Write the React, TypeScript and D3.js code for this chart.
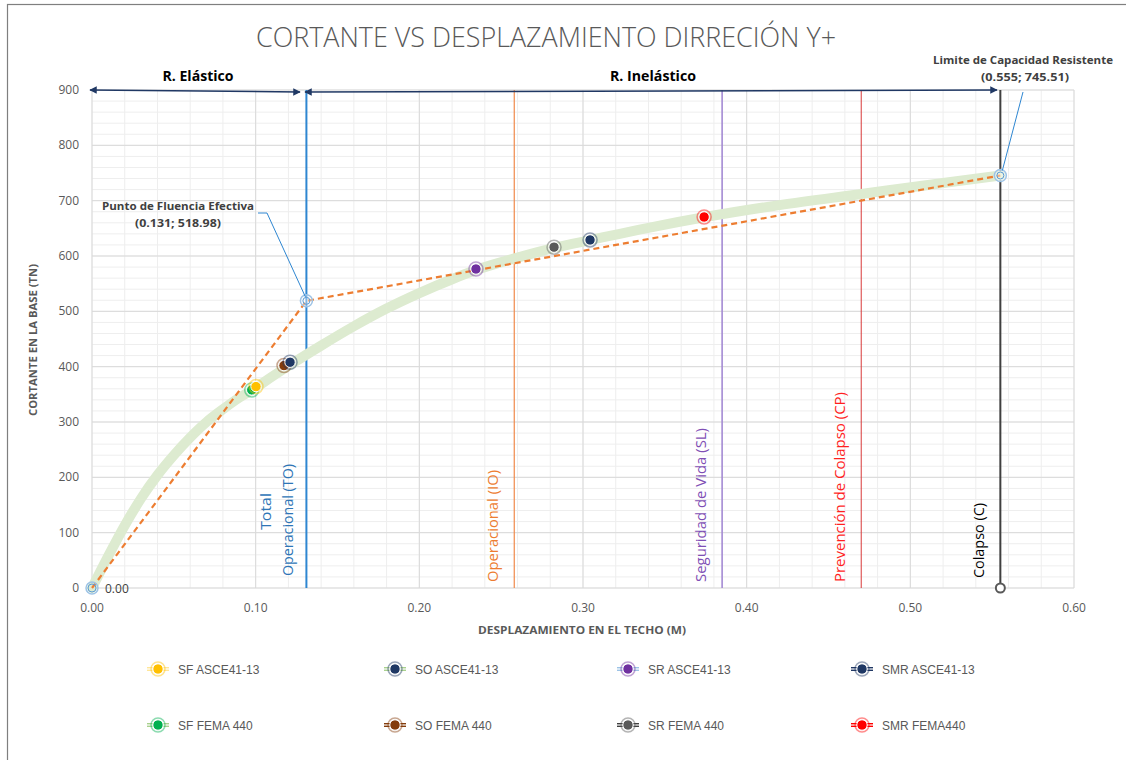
import React from "react";
import * as d3 from "d3";

// ---- data ----
const curveX = [0, 0.01, 0.02, 0.03, 0.04, 0.05, 0.06, 0.07, 0.08, 0.09, 0.098, 0.11, 0.122, 0.14, 0.16, 0.18, 0.2, 0.22, 0.235, 0.26, 0.283, 0.305, 0.34, 0.374, 0.42, 0.47, 0.52, 0.555];
const curveY = [0, 58, 113, 162, 204, 240, 272, 300, 323, 344, 358, 382, 405, 438, 473, 505, 533, 558, 575, 597, 615, 629, 651, 670, 692, 712, 732, 745.5];

const bilinearX = [0, 0.131, 0.555];
const bilinearY = [0, 518.98, 745.51];

const seriesNames = ["SF ASCE41-13", "SO ASCE41-13", "SR ASCE41-13", "SMR ASCE41-13", "SF FEMA 440", "SO FEMA 440", "SR FEMA 440", "SMR FEMA440"];
const seriesX = [0.1002, 0.121, 0.2346, 0.3043, 0.0976, 0.1173, 0.2823, 0.374];
const seriesY = [364, 408, 576.5, 629, 358, 402, 616, 670.5];
const markerColors = ["#FFC000", "#1F3864", "#7030A0", "#1F3864", "#00B050", "#843C0C", "#595959", "#FF0000"];
const legendLineColors = ["#FFE699", "#A9D18E", "#9DC3E6", "#203864", "#A9D18E", "#843C0C", "#404040", "#FF0000"];
const drawOrder = [4, 0, 5, 1, 2, 6, 3, 7];

const levelNames = ["Operacional (IO)", "Seguridad de Vida (SL)", "Prevención de Colapso (CP)", "Colapso (C)"];
const levelX = [0.258, 0.385, 0.47, 0.555];
const levelColors = ["#F08A4B", "#A48AD4", "#D83A3A", "#404040"];
const levelTextColors = ["#ED7D31", "#7F4FB5", "#FF1F1F", "#000000"];
const levelWidths = [1.2, 1.6, 1, 2];
const levelTextLen = [112, 154, 190, 75];

const xTicks = [0, 0.1, 0.2, 0.3, 0.4, 0.5, 0.6];
const yTicks = [0, 100, 200, 300, 400, 500, 600, 700, 800, 900];

const FONT = "'Open Sans', 'Liberation Sans', sans-serif";
const LEGFONT = "'Liberation Sans', Arial, sans-serif";

export default function App() {
  const x = d3.scaleLinear().domain([0, 0.6]).range([92, 1074]);
  const y = d3.scaleLinear().domain([0, 900]).range([588, 90]);
  const minorX = d3.range(0, 0.6001, 0.02);
  const minorY = d3.range(0, 900.1, 20);
  const line = d3.line<number>().x((_, i) => x(curveX[i])).y((_, i) => y(curveY[i])).curve(d3.curveMonotoneX);
  const biline = d3.line<number>().x((_, i) => x(bilinearX[i])).y((_, i) => y(bilinearY[i]));

  const marker = (cx: number, cy: number, c: string, key: string) => (
    <g key={key}>
      <circle cx={cx} cy={cy} r={7} fill="none" stroke={c} strokeOpacity={0.45} strokeWidth={1.5} />
      <circle cx={cx} cy={cy} r={5.2} fill={c} stroke="#fff" strokeWidth={1} />
    </g>
  );

  const legendCols = [158, 395, 628, 862];
  const legendRows = [669, 725];

  return (
    <div style={{ position: "absolute", left: 0, top: 0 }}>
      <svg width={1126} height={760} style={{ display: "block", background: "#fff" }}>
        <defs>
          <marker id="ah" viewBox="0 0 10 10" refX="9" refY="5" markerWidth="5" markerHeight="5" orient="auto-start-reverse">
            <path d="M0,0 L10,5 L0,10 z" fill="#203864" />
          </marker>
        </defs>
        <rect x={7.5} y={4.5} width={1140} height={800} fill="#fff" stroke="#7F7F7F" strokeWidth={1.2} />
        {/* grid minor */}
        {minorX.map((v, i) => (
          <line key={"mx" + i} x1={x(v)} x2={x(v)} y1={y(0)} y2={y(900)} stroke="#EEEEEE" strokeWidth={1} />
        ))}
        {minorY.map((v, i) => (
          <line key={"my" + i} x1={x(0)} x2={x(0.6)} y1={y(v)} y2={y(v)} stroke="#EEEEEE" strokeWidth={1} />
        ))}
        {xTicks.map((v, i) => (
          <line key={"Mx" + i} x1={x(v)} x2={x(v)} y1={y(0)} y2={y(900)} stroke="#D9D9D9" strokeWidth={1} />
        ))}
        {yTicks.map((v, i) => (
          <line key={"My" + i} x1={x(0)} x2={x(0.6)} y1={y(v)} y2={y(v)} stroke="#D9D9D9" strokeWidth={1} />
        ))}
        {/* tick labels */}
        {yTicks.map((v, i) => (
          <text key={"yt" + i} x={79} y={y(v) + 4} textAnchor="end" fontSize={12} fill="#595959" fontFamily={FONT}>{v}</text>
        ))}
        {xTicks.map((v, i) => (
          <text key={"xt" + i} x={x(v)} y={612} textAnchor="middle" fontSize={12} fill="#595959" fontFamily={FONT}>{v.toFixed(2)}</text>
        ))}
        {/* axis titles */}
        <text x={582} y={634} textAnchor="middle" fontSize={11} fontWeight="bold" fill="#595959" fontFamily={FONT} textLength={208} lengthAdjust="spacingAndGlyphs">DESPLAZAMIENTO EN EL TECHO (M)</text>
        <text transform="translate(37,340) rotate(-90)" textAnchor="middle" fontSize={11} fontWeight="bold" fill="#595959" fontFamily={FONT} textLength={152} lengthAdjust="spacingAndGlyphs">CORTANTE EN LA BASE (TN)</text>
        {/* title */}
        <text x={546} y={47} textAnchor="middle" fontSize={27} fontWeight={300} fill="#595959" fontFamily={FONT} textLength={580} lengthAdjust="spacingAndGlyphs">CORTANTE VS DESPLAZAMIENTO DIRRECIÓN Y+</text>

        {/* performance level lines */}
        {levelX.map((v, i) => (
          <line key={"lv" + i} x1={x(v)} x2={x(v)} y1={y(0)} y2={y(900)} stroke={levelColors[i]} strokeWidth={levelWidths[i]} />
        ))}
        {levelNames.map((n, i) => (
          <text key={"lt" + i} transform={`translate(${x(levelX[i]) - 16},${i === 3 ? 578 : 582}) rotate(-90)`} fontSize={15} fill={levelTextColors[i]} fontFamily={FONT} textLength={levelTextLen[i]} lengthAdjust="spacingAndGlyphs">{n}</text>
        ))}
        {/* TO line */}
        <line x1={x(0.131)} x2={x(0.131)} y1={y(0)} y2={y(900)} stroke="#2E86D1" strokeWidth={2} />
        <text transform="translate(271,530) rotate(-90)" fontSize={15} fill="#2E75B6" fontFamily={FONT} textLength={37} lengthAdjust="spacingAndGlyphs">Total</text>
        <text transform="translate(293,576) rotate(-90)" fontSize={15} fill="#2E75B6" fontFamily={FONT} textLength={112} lengthAdjust="spacingAndGlyphs">Operacional (TO)</text>

        {/* pushover curve */}
        <path d={line(curveX) || ""} fill="none" stroke="#DDEBD0" strokeWidth={10} strokeLinecap="round" strokeLinejoin="round" />
        {/* bilinear */}
        <path d={biline(bilinearX) || ""} fill="none" stroke="#ED7D31" strokeWidth={2.2} strokeDasharray="6,4" />

        {/* special points */}
        <circle cx={x(0)} cy={y(0)} r={6} fill="none" stroke="#9DC3E6" strokeWidth={1.5} />
        <circle cx={x(0)} cy={y(0)} r={4} fill="none" stroke="#5B9BD5" strokeWidth={1} />
        <text x={105} y={593} fontSize={12} fill="#404040" fontFamily={FONT}>0.00</text>
        <circle cx={x(0.131)} cy={y(518.98)} r={6} fill="rgba(255,255,255,0.4)" stroke="#9DC3E6" strokeWidth={1.5} />
        <circle cx={x(0.131)} cy={y(518.98)} r={3.5} fill="none" stroke="#5B9BD5" strokeWidth={1} />
        <circle cx={x(0.555)} cy={y(745.51)} r={6} fill="rgba(255,255,255,0.4)" stroke="#9DC3E6" strokeWidth={1.5} />
        <circle cx={x(0.555)} cy={y(745.51)} r={3.5} fill="none" stroke="#5B9BD5" strokeWidth={1} />
        <circle cx={x(0.555)} cy={y(0)} r={4.5} fill="#fff" stroke="#595959" strokeWidth={2} />

        {/* series points */}
        {drawOrder.map((i) => marker(x(seriesX[i]), y(seriesY[i]), markerColors[i], "p" + i))}

        {/* annotations */}
        <polyline points={`258,213 267,213 ${x(0.131) - 1},${y(518.98) - 4}`} fill="none" stroke="#2E86D1" strokeWidth={1} />
        <text x={178} y={210} textAnchor="middle" fontSize={11} fontWeight="bold" fill="#404040" fontFamily={FONT} textLength={152} lengthAdjust="spacingAndGlyphs">Punto de Fluencia Efectiva</text>
        <text x={178} y={227} textAnchor="middle" fontSize={11} fontWeight="bold" fill="#404040" fontFamily={FONT} textLength={86} lengthAdjust="spacingAndGlyphs">(0.131; 518.98)</text>
        <line x1={1023} y1={92} x2={x(0.555) + 2} y2={y(745.51) - 5} stroke="#2E86D1" strokeWidth={1} />
        <text x={1023} y={64} textAnchor="middle" fontSize={11} fontWeight="bold" fill="#404040" fontFamily={FONT} textLength={180} lengthAdjust="spacingAndGlyphs">Limite de Capacidad Resistente</text>
        <text x={1025} y={81} textAnchor="middle" fontSize={11} fontWeight="bold" fill="#404040" fontFamily={FONT} textLength={88} lengthAdjust="spacingAndGlyphs">(0.555; 745.51)</text>

        {/* region arrows */}
        <line x1={90} y1={90} x2={300} y2={92} stroke="#203864" strokeWidth={1.5} markerStart="url(#ah)" markerEnd="url(#ah)" />
        <line x1={305} y1={92} x2={997} y2={90} stroke="#203864" strokeWidth={1.5} markerStart="url(#ah)" markerEnd="url(#ah)" />
        <text x={198} y={81} textAnchor="middle" fontSize={14} fontWeight="bold" fill="#000" fontFamily={FONT} textLength={71} lengthAdjust="spacingAndGlyphs">R. Elástico</text>
        <text x={653} y={81} textAnchor="middle" fontSize={14} fontWeight="bold" fill="#000" fontFamily={FONT} textLength={86} lengthAdjust="spacingAndGlyphs">R. Inelástico</text>

        {/* legend */}
        {seriesNames.map((n, i) => {
          const cx = legendCols[i % 4];
          const cy = legendRows[Math.floor(i / 4)];
          return (
            <g key={"lg" + i}>
              <line x1={cx - 11} x2={cx + 11} y1={cy} y2={cy} stroke={legendLineColors[i]} strokeWidth={4} />
              <line x1={cx - 11} x2={cx + 11} y1={cy} y2={cy} stroke="#fff" strokeWidth={1.2} />
              {marker(cx, cy, markerColors[i], "lm" + i)}
              <text x={cx + 20} y={cy + 4.5} fontSize={12} fill="#595959" fontFamily={LEGFONT}>{n}</text>
            </g>
          );
        })}
      </svg>
    </div>
  );
}
